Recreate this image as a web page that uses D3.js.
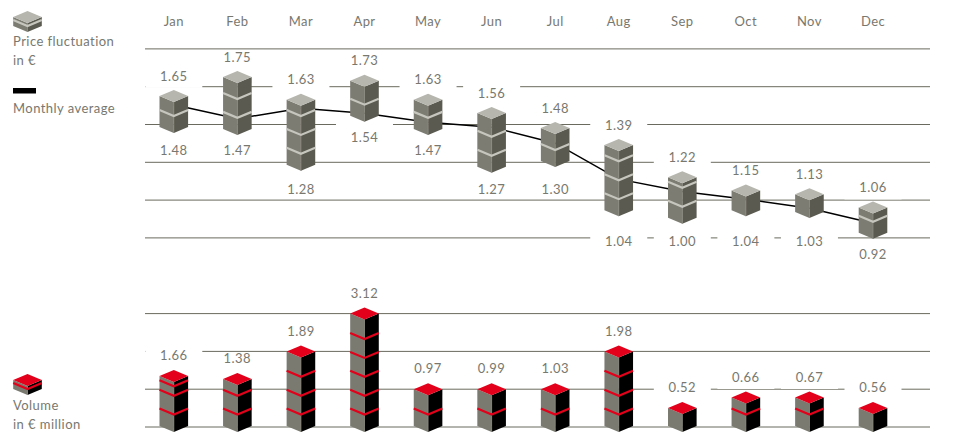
<!DOCTYPE html>
<html><head><meta charset="utf-8">
<script src="https://cdn.jsdelivr.net/npm/d3@7"></script>
<style>
html,body{margin:0;padding:0;background:#fff;overflow:hidden}
svg{display:block}
text{font-family:Lato,sans-serif;font-size:13px;fill:#78786f;letter-spacing:.45px}
</style></head><body>
<svg id="c" width="960" height="434"></svg>
<script>
const months=["Jan","Feb","Mar","Apr","May","Jun","Jul","Aug","Sep","Oct","Nov","Dec"];
const priceHigh=[1.65,1.75,1.63,1.73,1.63,1.56,1.48,1.39,1.22,1.15,1.13,1.06];
const priceLow=[1.48,1.47,1.28,1.54,1.47,1.27,1.30,1.04,1.00,1.04,1.03,0.92];
const priceAverage=[1.63,1.556,1.611,1.585,1.537,1.511,1.426,1.236,1.17,1.13,1.082,1.003];
const volume=[1.66,1.38,1.89,3.12,0.97,0.99,1.03,1.98,0.52,0.66,0.67,0.56];
// the pictogram stacks: each block is ~0.5 on the volume scale, drawn bottom to top
const volumeBlocks=[[.5,.5,.25,.1],[.5,.5,.27],[.5,.5,.5,.5],[.5,.5,.5,.5,.5,.5],[.5,.5],[.5,.5],[.5,.5],[.5,.5,.5,.5],[.5],[.5,.28],[.5,.28],[.5]];
const priceGrid=[0.925,1.125,1.325,1.525,1.725,1.925];
const volumeGrid=[0,1,2,3];

const W=14.3,DH=6;
const x=d3.scalePoint().domain(months).range([173.8,873]);
const yP=d3.scaleLinear().domain([0.925,1.925]).range([237.9,48.9]);
const yV=d3.scaleLinear().domain([0,1]).range([427,389.2]);
const svg=d3.select("#c");

function grid(vals,y){
  svg.append("g").selectAll("line").data(vals).join("line")
    .attr("x1",145).attr("x2",930).attr("y1",y).attr("y2",y)
    .attr("stroke","#6a6a5e").attr("stroke-width",1);
}
function masks(items){
  svg.append("g").selectAll("rect").data(items).join("rect")
    .attr("x",d=>d.x-28.5).attr("width",57)
    .attr("y",d=>d.y-d.up).attr("height",d=>d.up+d.down).attr("fill","#fff");
}
function stack(cx,top,bottom,seps,c){
  const g=svg.append("g");
  const poly=(pts,fill)=>g.append("polygon").attr("points",pts.map(p=>p.join(",")).join(" ")).attr("fill",fill);
  poly([[cx-W,top+DH],[cx,top+2*DH],[cx,bottom],[cx-W,bottom-DH]],c.left);
  poly([[cx+W,top+DH],[cx,top+2*DH],[cx,bottom],[cx+W,bottom-DH]],c.right);
  g.append("line").attr("x1",cx).attr("x2",cx).attr("y1",top+2*DH).attr("y2",bottom).attr("stroke",c.edge).attr("stroke-width",.8);
  seps.forEach(f=>{
    g.append("polyline").attr("points",[[cx-W,f-DH],[cx,f],[cx+W,f-DH]].map(p=>p.join(",")).join(" "))
      .attr("fill","none").attr("stroke",c.sep).attr("stroke-width",2.2);
  });
  poly([[cx,top],[cx+W,top+DH],[cx,top+2*DH],[cx-W,top+DH]],c.top);
}
const grey={left:"#7d7c72",right:"#5b5a50",edge:"#8b8a80",top:"#b6b6ae",sep:"#c6c6be"};
const red={left:"#7b7a70",right:"#000",edge:"#8b8a80",top:"#e2001a",sep:"#e2001a"};
const label=(items)=>svg.append("g").selectAll("text").data(items).join("text")
  .attr("x",d=>d.x).attr("y",d=>d.y).attr("dy","0.36em").attr("text-anchor","middle").text(d=>d.t);

// price panel
const hiTop=(v)=>yP(v)-11;
const hiLab=months.map((m,i)=>({x:x(m),y:hiTop(priceHigh[i])-14,up:7,down:12,t:priceHigh[i].toFixed(2)}));
const loLab=months.map((m,i)=>({x:x(m),y:137+13*Math.ceil((yP(priceLow[i])+15-137)/13-0.001),up:14,down:3,t:priceLow[i].toFixed(2)}));
grid(priceGrid,yP);
masks(hiLab);masks(loLab);
svg.append("path").datum(priceAverage.map((v,i)=>[x(months[i]),yP(v)]))
  .attr("d",d3.line()).attr("fill","none").attr("stroke","#000").attr("stroke-width",1.5);
months.forEach((m,i)=>{
  const range=priceHigh[i]-priceLow[i];
  const seps=d3.range(0,4).map(k=>0.09+0.1*k).filter(u=>u<range-0.025).map(u=>yP(priceLow[i])-(yP(0)-yP(u)));
  stack(x(m),hiTop(priceHigh[i]),yP(priceLow[i]),seps,grey);
});
label(hiLab);label(loLab);

// volume panel
const volBottom=yV(0)+5;
const blockPx=(v)=>yV(0)-yV(v);
const tops=volumeBlocks.map(b=>volBottom-2*DH-d3.sum(b,blockPx)+1);
const volLab=months.map((m,i)=>({x:x(m),y:tops[i]-14.5,up:6,down:12,t:volume[i].toFixed(2)}));
grid(volumeGrid,yV);
masks(volLab);
months.forEach((m,i)=>{
  const b=volumeBlocks[i];
  const seps=b.slice(0,-1).map((_,k)=>volBottom-d3.sum(b.slice(0,k+1),blockPx)+1.5);
  stack(x(m),tops[i],volBottom,seps,red);
});
label(volLab);

// month header
svg.append("g").selectAll("text").data(months).join("text")
  .attr("x",d=>x(d)).attr("y",21).attr("dy","0.36em").attr("text-anchor","middle").text(d=>d);

// legend
stack(27.5,11,32,[26],grey);
svg.append("rect").attr("x",13).attr("y",88).attr("width",23).attr("height",5.5).attr("fill","#000");
stack(27.5,374,395,[389],red);
const legendText=[["Price fluctuation",41],["in €",60],["Monthly average",108],["Volume",405],["in € million",424]];
svg.append("g").selectAll("text").data(legendText).join("text")
  .attr("x",13).attr("y",d=>d[1]).attr("dy","0.36em").text(d=>d[0]);
</script></body></html>
